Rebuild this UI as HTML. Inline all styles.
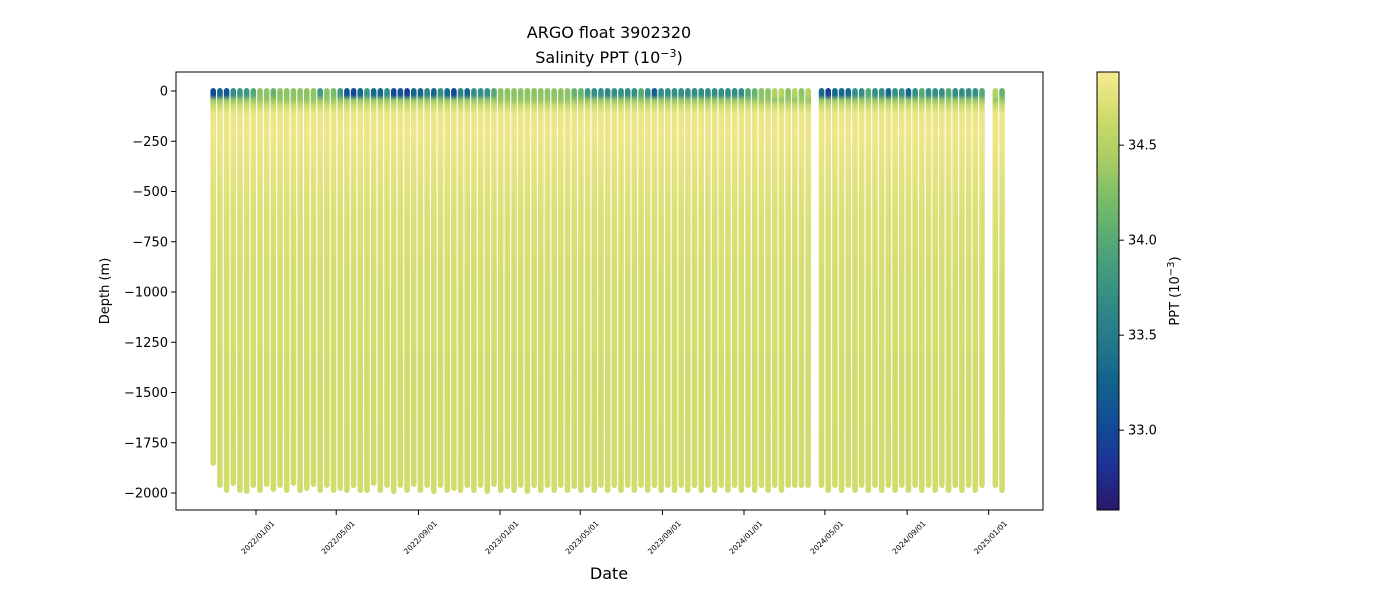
<!DOCTYPE html>
<html><head><meta charset="utf-8"><style>
body{margin:0;background:#fff;font-family:"Liberation Sans","DejaVu Sans",sans-serif;}
svg text{font-family:"DejaVu Sans","Liberation Sans",sans-serif;fill:#000;}
</style></head><body>
<svg id="chart" width="1400" height="600" xmlns="http://www.w3.org/2000/svg">
<defs id="defs"></defs>
<text x="609" y="38" font-size="16" text-anchor="middle">ARGO float 3902320</text>
<text x="609" y="63" font-size="16" text-anchor="middle">Salinity PPT (10<tspan dy="-6" font-size="11">−3</tspan><tspan dy="6">)</tspan></text>
<g id="plot"></g>
<rect x="176" y="72" width="867" height="438" fill="none" stroke="#000" stroke-width="1"/>
<g id="yaxis"></g>
<g id="xaxis"></g>
<text x="0" y="0" font-size="13" text-anchor="middle" transform="translate(109,291) rotate(-90)">Depth (m)</text>
<text x="609" y="579" font-size="16" text-anchor="middle">Date</text>
<g id="cbar"></g>
<text x="0" y="0" font-size="13" text-anchor="middle" transform="translate(1179,291) rotate(-90)">PPT (10<tspan dy="-5" font-size="10">−3</tspan><tspan dy="5">)</tspan></text>
</svg>
<script>
// days since 2022-01-01 of each profile
const profileDays = [-64,-54,-44,-34,-24,-14,-4,6,16,26,
36,46,56,66,76,86,96,106,116,126,
136,146,156,166,176,186,196,206,216,226,
236,246,256,266,276,286,296,306,316,326,
336,346,356,366,376,386,396,406,416,426,
436,446,456,466,476,486,496,506,516,526,
536,546,556,566,576,586,596,606,616,626,
636,646,656,666,676,686,696,706,716,726,
736,746,756,766,776,786,796,806,816,826,
846,856,866,876,886,896,906,916,926,
936,946,956,966,976,986,996,1006,1016,1026,
1036,1046,1056,1066,1076,1086,1106,1116];
// max depth of each profile (m)
const maxDepths = [1850,1960,1985,1950,1985,1990,1960,1985,1955,1980,
1960,1985,1950,1985,1975,1955,1985,1960,1985,1975,
1985,1960,1985,1985,1950,1985,1960,1990,1960,1985,
1955,1985,1960,1990,1960,1985,1975,1985,1960,1985,
1960,1990,1955,1985,1965,1985,1960,1990,1960,1985,
1960,1985,1960,1985,1965,1985,1960,1985,1960,1985,
1960,1985,1960,1985,1960,1985,1960,1985,1960,1985,
1960,1985,1960,1985,1960,1985,1960,1985,1960,1985,
1960,1985,1960,1985,1960,1985,1960,1960,1960,1960,
1960,1985,1960,1985,1960,1985,1960,1985,1960,
1985,1960,1985,1960,1985,1960,1985,1960,1985,1960,
1985,1960,1985,1960,1985,1960,1960,1985];
// surface salinity of each profile
const surfaceSal = [33.0,33.3,33.1,33.7,33.8,33.8,34.0,34.3,34.3,34.1,
34.3,34.3,34.3,34.3,34.3,34.3,33.8,34.3,34.2,33.8,
33.1,33.0,33.3,33.8,33.3,33.3,33.7,33.0,33.1,32.9,
33.3,33.3,33.6,33.3,33.7,33.3,33.0,33.6,33.3,33.7,
33.7,33.7,34.0,34.3,34.3,34.3,34.3,34.3,34.3,34.3,
34.3,34.3,34.3,34.3,34.1,34.1,33.8,33.7,33.7,33.6,
33.7,33.7,33.7,33.7,34.0,33.7,33.2,33.7,33.7,33.7,
33.7,33.7,33.7,33.7,33.7,33.7,33.7,33.7,33.7,33.7,
34.0,34.1,34.3,34.3,34.5,34.5,34.3,34.5,34.3,34.5,
33.3,32.9,33.3,33.3,33.3,33.7,33.7,34.0,33.7,
33.7,33.3,33.7,33.7,33.3,33.7,34.0,33.7,33.7,33.7,
34.0,33.7,33.7,33.7,33.7,34.0,34.5,34.1];
// typical vertical structure below the surface layer
const levelDepths = [20,45,70,110,200,350,600,1000,2000];
const levelSal = [null,34.35,34.6,34.8,34.83,34.78,34.72,34.68,34.66];
const yTicks = [0,-250,-500,-750,-1000,-1250,-1500,-1750,-2000];
const xTickLabels = ["2022/01/01","2022/05/01","2022/09/01","2023/01/01","2023/05/01","2023/09/01","2024/01/01","2024/05/01","2024/09/01","2025/01/01"];
const xTickDays = [0,120,243,365,485,608,730,851,974,1096];
const cTicks = [33.0,33.5,34.0,34.5];
const cMin = 32.58, cMax = 34.885;

const NS="http://www.w3.org/2000/svg";
const xScale = d => 256 + d*0.6685;
const yScale = m => 91 + m*0.201;
const cScale = s => 510 - (s-cMin)/(cMax-cMin)*438;
const stops=[[0,[41,24,107]],[0.1,[30,50,150]],[0.2,[16,77,150]],[0.3,[18,101,140]],[0.4,[40,123,138]],[0.5,[55,145,132]],[0.6,[80,166,120]],[0.7,[118,187,104]],[0.8,[168,205,98]],[0.9,[208,220,108]],[1,[248,234,146]]];
function color(s){let t=Math.max(0,Math.min(1,(s-cMin)/(cMax-cMin)));
 for(let i=1;i<stops.length;i++){if(t<=stops[i][0]){const a=stops[i-1],b=stops[i];const f=(t-a[0])/(b[0]-a[0]);
 return 'rgb('+a[1].map((v,j)=>Math.round(v+(b[1][j]-v)*f)).join(',')+')';}}return 'rgb(248,234,146)';}
function mk(tag,attrs,parent){const e=document.createElementNS(NS,tag);for(const k in attrs)e.setAttribute(k,attrs[k]);parent.appendChild(e);return e;}
const defs=document.getElementById('defs'), plot=document.getElementById('plot');
profileDays.forEach((d,i)=>{
 const g=mk('linearGradient',{id:'g'+i,gradientUnits:'userSpaceOnUse',x1:0,x2:0,y1:yScale(0),y2:yScale(maxDepths[i])},defs);
 const total=maxDepths[i];
 mk('stop',{offset:0,'stop-color':color(surfaceSal[i])},g);
 levelDepths.forEach((ld,j)=>{const s=levelSal[j]===null?surfaceSal[i]:levelSal[j];
  mk('stop',{offset:Math.min(1,ld/total),'stop-color':color(s)},g);});
 const x=xScale(d);
 const r=mk('rect',{x:x-2.8,y:yScale(0)-3,width:5.6,height:yScale(total)-yScale(0)+6,rx:2.8,fill:'url(#g'+i+')'},plot);
 
 
});
const ya=document.getElementById('yaxis');
yTicks.forEach(v=>{const y=yScale(-v);
 const l=mk('line',{x1:171,x2:176,y1:y,y2:y,stroke:'#000'},ya);
 
 
 const t=mk('text',{x:168,y:y+4.5,'font-size':13,'text-anchor':'end'},ya);t.textContent=v===0?'0':'−'+(-v);
 
 });
const xa=document.getElementById('xaxis');
xTickDays.forEach((d,i)=>{const x=xScale(d);
 const l=mk('line',{x1:x,x2:x,y1:510,y2:515,stroke:'#000'},xa);
 
 
 const t=mk('text',{x:0,y:0,'font-size':7.5,'text-anchor':'end',transform:'translate('+(x+19)+',524) rotate(-45)'},xa);t.textContent=xTickLabels[i];
 
 });
const cb=document.getElementById('cbar');
const cg=mk('linearGradient',{id:'cg',x1:0,x2:0,y1:1,y2:0},defs);
stops.forEach(s=>mk('stop',{offset:s[0],'stop-color':'rgb('+s[1].join(',')+')'},cg));
const cr=mk('rect',{x:1097,y:72,width:22,height:438,fill:'url(#cg)',stroke:'#000','stroke-width':1},cb);


cTicks.forEach(v=>{const y=cScale(v);
 const l=mk('line',{x1:1119,x2:1124,y1:y,y2:y,stroke:'#000'},cb);
 
 
 const t=mk('text',{x:1128,y:y+4.5,'font-size':13},cb);t.textContent=v.toFixed(1);
 
 });
</script>
</body></html>
